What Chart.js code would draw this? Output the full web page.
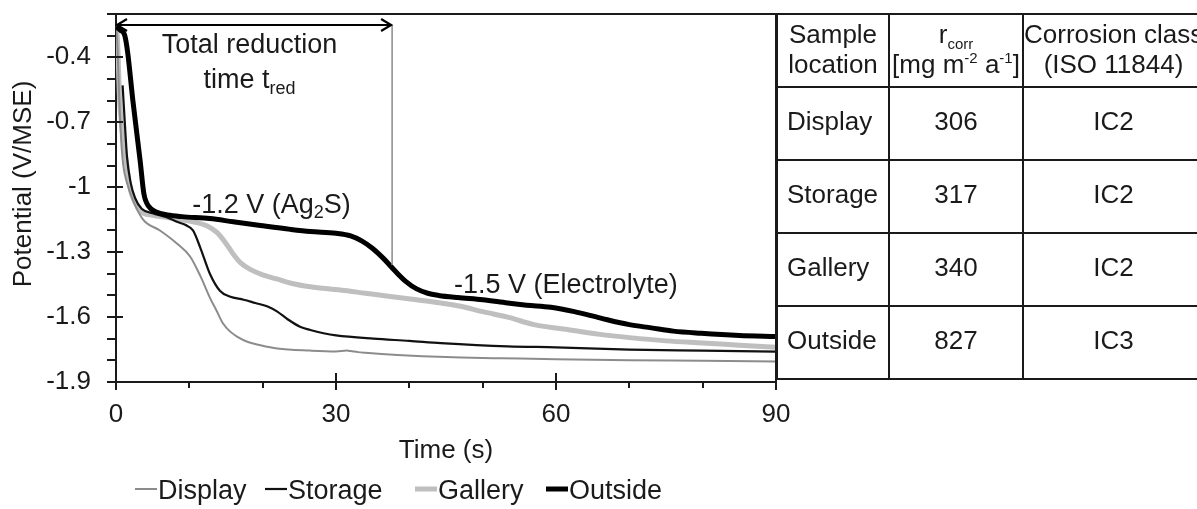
<!DOCTYPE html>
<html>
<head>
<meta charset="utf-8">
<title>Reduction curves</title>
<script src="https://cdn.jsdelivr.net/npm/chart.js@4.4.0/dist/chart.umd.min.js"></script>
<style>
  html, body { margin: 0; padding: 0; background: #fff; }
  body { width: 1197px; height: 509px; overflow: hidden; position: relative;
         font-family: "Liberation Sans", Arial, Helvetica, sans-serif; color: #1a1a1a; }
  #wrap { position: absolute; left: 0; top: 0; width: 1197px; height: 509px; }
  table.rates { position: absolute; left: 776px; top: 13px; border-collapse: collapse;
                table-layout: fixed; width: 427px; font-size: 26px; }
  table.rates td { border: 2px solid #1a1a1a; padding: 0; text-align: center;
                   vertical-align: middle; line-height: 30px; white-space: nowrap; }
  table.rates tr { height: 73px; }
  table.rates td.loc { text-align: left; padding-left: 9px; }
  table.rates tr.body td { padding-bottom: 6px; }
  table.rates tr.head td { padding-bottom: 4px; }
  table.rates sub, table.rates sup { font-size: 15px; line-height: 0; }
</style>
</head>
<body>
<div id="wrap"><canvas id="chart"></canvas></div>
<table class="rates" id="rates"></table>

<script>
// curves: time (s) vs potential (V/MSE)
const tDisplay = [0, 0.2, 0.4, 0.7, 1.0, 1.5, 2.3, 3.7, 6, 8.3, 10.1, 11.5, 12.8, 13.7, 14.6, 15.5, 16.5, 18, 19.7, 22, 26.5, 30, 31.5, 32, 33, 34, 38.4, 45, 52.5, 60, 70, 80, 90];
const vDisplay = [-0.25, -0.35, -0.55, -0.78, -0.90, -0.98, -1.06, -1.15, -1.20, -1.26, -1.32, -1.41, -1.51, -1.57, -1.63, -1.665, -1.69, -1.715, -1.73, -1.745, -1.755, -1.759, -1.755, -1.757, -1.762, -1.765, -1.775, -1.785, -1.79, -1.795, -1.80, -1.802, -1.805];

const tStorage = [0.9, 1.2, 1.5, 2.0, 2.6, 3.5, 5, 7, 8.3, 9.5, 10.5, 11.5, 12.8, 14.2, 15.5, 17.4, 19, 20.6, 22, 23.4, 25.1, 26.5, 28.3, 30, 35.1, 40, 44.3, 53.4, 60, 70, 80, 90];
const vStorage = [-0.53, -0.70, -0.86, -0.98, -1.05, -1.10, -1.12, -1.14, -1.16, -1.175, -1.20, -1.28, -1.40, -1.48, -1.505, -1.52, -1.535, -1.55, -1.575, -1.61, -1.645, -1.66, -1.675, -1.685, -1.70, -1.71, -1.72, -1.735, -1.74, -1.75, -1.755, -1.76];

const tGallery = [0, 0.2, 0.5, 0.8, 1.2, 1.9, 2.6, 3.3, 5, 7, 10.5, 12.5, 13.8, 15, 16, 17, 18.3, 20, 22, 24, 26.5, 30.6, 34, 37.4, 41, 44.3, 47, 50, 53.4, 57, 61, 66, 70, 75, 80, 85, 90];
const vGallery = [-0.25, -0.32, -0.6, -0.72, -0.83, -1.0, -1.07, -1.11, -1.13, -1.14, -1.16, -1.18, -1.21, -1.26, -1.31, -1.35, -1.38, -1.405, -1.425, -1.445, -1.46, -1.475, -1.49, -1.505, -1.52, -1.535, -1.55, -1.575, -1.60, -1.635, -1.655, -1.68, -1.695, -1.71, -1.72, -1.73, -1.74];

const tOutside = [0, 0.6, 1.2, 1.6, 2.3, 3.3, 3.8, 4.5, 5.5, 7, 9, 12.8, 16, 19.7, 23.8, 26.5, 30, 32, 33.5, 35, 36.5, 38, 39.5, 41, 42.5, 44, 46.6, 50, 53.4, 56, 59.3, 62.5, 66.1, 70, 73, 76, 79.8, 85, 90];
const vOutside = [-0.26, -0.275, -0.30, -0.38, -0.60, -0.88, -1.03, -1.09, -1.115, -1.128, -1.136, -1.145, -1.16, -1.177, -1.195, -1.205, -1.213, -1.225, -1.248, -1.283, -1.33, -1.385, -1.435, -1.47, -1.49, -1.50, -1.51, -1.52, -1.535, -1.545, -1.555, -1.575, -1.605, -1.635, -1.65, -1.665, -1.675, -1.685, -1.69];

const xLabelled = [0, 30, 60, 90];
const yLabelled = [-1.9, -1.6, -1.3, -1, -0.7, -0.4];

// total reduction time marker
const tRed = 37.65;
const vArrow = -0.25;
const vRedEnd = -1.36;

// table beside the plot
const tableLocations = ['Display', 'Storage', 'Gallery', 'Outside'];
const rCorr = [306, 317, 340, 827];
const isoClass = ['IC2', 'IC2', 'IC2', 'IC3'];

const FONT = '"Liberation Sans", Arial, Helvetica, sans-serif';
const INK = '#1a1a1a';

function pts(ts, vs) {
  return ts.map((t, i) => ({ x: t, y: vs[i] }));
}

function isIn(list, v) {
  return list.some(l => Math.abs(l - v) < 1e-6);
}

// text with optional subscript pieces
function richText(ctx, parts, x, y, size, align) {
  let w = 0;
  const pieces = parts.map(p => {
    const fs = p.sub ? Math.round(size * 0.66) : size;
    ctx.font = fs + 'px ' + FONT;
    const pw = ctx.measureText(p.text).width;
    w += pw;
    return { text: p.text, sub: p.sub, fs, pw };
  });
  let cx = align === 'center' ? x - w / 2 : x;
  ctx.textAlign = 'left';
  ctx.textBaseline = 'alphabetic';
  pieces.forEach(p => {
    ctx.font = p.fs + 'px ' + FONT;
    ctx.fillText(p.text, cx, p.sub ? y + size * 0.2 : y);
    cx += p.pw;
  });
}

const axisDecor = {
  id: 'axisDecor',
  afterDraw(chart) {
    const { ctx, chartArea: a, scales: { x, y } } = chart;
    ctx.save();
    ctx.strokeStyle = INK;
    ctx.lineWidth = 2;
    ctx.beginPath();
    ctx.moveTo(a.left, a.top);
    ctx.lineTo(a.right, a.top);
    ctx.lineTo(a.right, a.bottom);
    // y ticks: every 0.1, labelled ones cross the axis
    for (let k = 0; k <= 17; k++) {
      const v = -1.9 + k * 0.1;
      const py = Math.round(y.getPixelForValue(v));
      ctx.moveTo(a.left - 9, py);
      ctx.lineTo(isIn(yLabelled, v) ? a.left + 7 : a.left, py);
    }
    // x ticks: every 10 s
    for (let t = 0; t <= 90; t += 10) {
      const px = Math.round(x.getPixelForValue(t));
      if (isIn(xLabelled, t)) {
        ctx.moveTo(px, a.bottom - 9);
        ctx.lineTo(px, a.bottom + 8);
      } else {
        ctx.moveTo(px, a.bottom);
        ctx.lineTo(px, a.bottom + 6);
      }
    }
    ctx.stroke();

    // y title
    ctx.fillStyle = INK;
    ctx.font = '26px ' + FONT;
    ctx.textAlign = 'center';
    ctx.textBaseline = 'middle';
    ctx.translate(24, 184);
    ctx.rotate(-Math.PI / 2);
    ctx.fillText('Potential (V/MSE)', 0, 0);
    ctx.restore();
  }
};

const legendX = [135, 265, 415, 546];

const annotations = {
  id: 'annotations',
  afterDraw(chart) {
    const { ctx, scales: { x, y } } = chart;
    const xr = x.getPixelForValue(tRed);
    const x0 = x.getPixelForValue(0);
    const ya = Math.round(y.getPixelForValue(vArrow));
    ctx.save();
    // vertical marker at t_red
    ctx.strokeStyle = '#8a8a8a';
    ctx.lineWidth = 1.5;
    ctx.beginPath();
    ctx.moveTo(xr, ya);
    ctx.lineTo(xr, y.getPixelForValue(vRedEnd));
    ctx.stroke();
    // double arrow
    ctx.strokeStyle = '#000';
    ctx.lineWidth = 2.2;
    ctx.beginPath();
    ctx.moveTo(x0 + 1, ya);
    ctx.lineTo(xr - 1, ya);
    ctx.moveTo(x0 + 11, ya - 6);
    ctx.lineTo(x0 + 1, ya);
    ctx.lineTo(x0 + 11, ya + 6);
    ctx.moveTo(xr - 11, ya - 6);
    ctx.lineTo(xr - 1, ya);
    ctx.lineTo(xr - 11, ya + 6);
    ctx.stroke();

    ctx.fillStyle = INK;
    richText(ctx, [{ text: 'Total reduction' }], x.getPixelForValue(18.2), y.getPixelForValue(-0.381), 27, 'center');
    richText(ctx, [{ text: 'time t' }, { text: 'red', sub: true }], x.getPixelForValue(18.2), y.getPixelForValue(-0.543), 27, 'center');
    richText(ctx, [{ text: '-1.2 V (Ag' }, { text: '2', sub: true }, { text: 'S)' }], x.getPixelForValue(10.4), y.getPixelForValue(-1.117), 27, 'left');
    richText(ctx, [{ text: '-1.5 V (Electrolyte)' }], x.getPixelForValue(46.1), y.getPixelForValue(-1.488), 27, 'left');

    // legend row
    chart.data.datasets.forEach((ds, i) => {
      const cx = legendX[i];
      ctx.strokeStyle = ds.borderColor;
      ctx.lineWidth = ds.borderWidth;
      ctx.beginPath();
      ctx.moveTo(cx, 489);
      ctx.lineTo(cx + 22, 489);
      ctx.stroke();
      ctx.font = '27px ' + FONT;
      ctx.textAlign = 'left';
      ctx.textBaseline = 'middle';
      ctx.fillStyle = INK;
      ctx.fillText(ds.label, cx + 23, 492);
    });
    ctx.restore();
  }
};

const line = (label, ts, vs, color, width, order) => ({
  label,
  data: pts(ts, vs),
  borderColor: color,
  backgroundColor: color,
  borderWidth: width,
  pointRadius: 0,
  fill: false,
  cubicInterpolationMode: 'monotone',
  order
});

new Chart(document.getElementById('chart'), {
  type: 'line',
  data: {
    datasets: [
      line('Display', tDisplay, vDisplay, '#8c8c8c', 2, 2),
      line('Storage', tStorage, vStorage, '#111111', 2.2, 1),
      line('Gallery', tGallery, vGallery, '#bfbfbf', 5, 3),
      line('Outside', tOutside, vOutside, '#000000', 5, 0)
    ]
  },
  options: {
    responsive: true,
    maintainAspectRatio: false,
    animation: false,
    events: [],
    layout: { padding: { left: 0, right: 421, top: 14, bottom: 0 } },
    plugins: { legend: { display: false }, tooltip: { enabled: false } },
    scales: {
      x: {
        type: 'linear',
        min: 0,
        max: 90,
        grid: { display: false, drawTicks: false },
        border: { display: true, color: INK, width: 2 },
        ticks: {
          stepSize: 10,
          autoSkip: false,
          maxRotation: 0,
          padding: 17,
          color: INK,
          font: { size: 26, family: FONT },
          callback: v => (isIn(xLabelled, v) ? String(v) : null)
        },
        title: {
          display: true,
          text: 'Time (s)',
          color: INK,
          font: { size: 26, family: FONT },
          padding: { top: 0, bottom: 43 }
        },
        afterFit: s => { s.height = 127; s.paddingLeft = 0; s.paddingRight = 0; }
      },
      y: {
        type: 'linear',
        min: -1.9,
        max: -0.2,
        grid: { display: false, drawTicks: false },
        border: { display: true, color: INK, width: 2 },
        ticks: {
          stepSize: 0.1,
          autoSkip: false,
          padding: 25,
          color: INK,
          font: { size: 26, family: FONT },
          callback: v => (isIn(yLabelled, v) ? String(Math.round(v * 10) / 10) : null)
        },
        afterFit: s => { s.width = 116; s.paddingTop = 0; s.paddingBottom = 0; }
      }
    }
  },
  plugins: [axisDecor, annotations]
});

// corrosion table
const table = document.getElementById('rates');
table.innerHTML =
  '<colgroup><col style="width:112px"><col style="width:134px"><col style="width:181px"></colgroup>' +
  '<tr class="head"><td>Sample<br>location</td>' +
  '<td>r<sub>corr</sub><br>[mg m<sup>-2</sup> a<sup>-1</sup>]</td>' +
  '<td>Corrosion class<br>(ISO 11844)</td></tr>' +
  tableLocations.map((loc, i) =>
    '<tr class="body"><td class="loc">' + loc + '</td><td>' + rCorr[i] + '</td><td>' + isoClass[i] + '</td></tr>'
  ).join('');
</script>
</body>
</html>
